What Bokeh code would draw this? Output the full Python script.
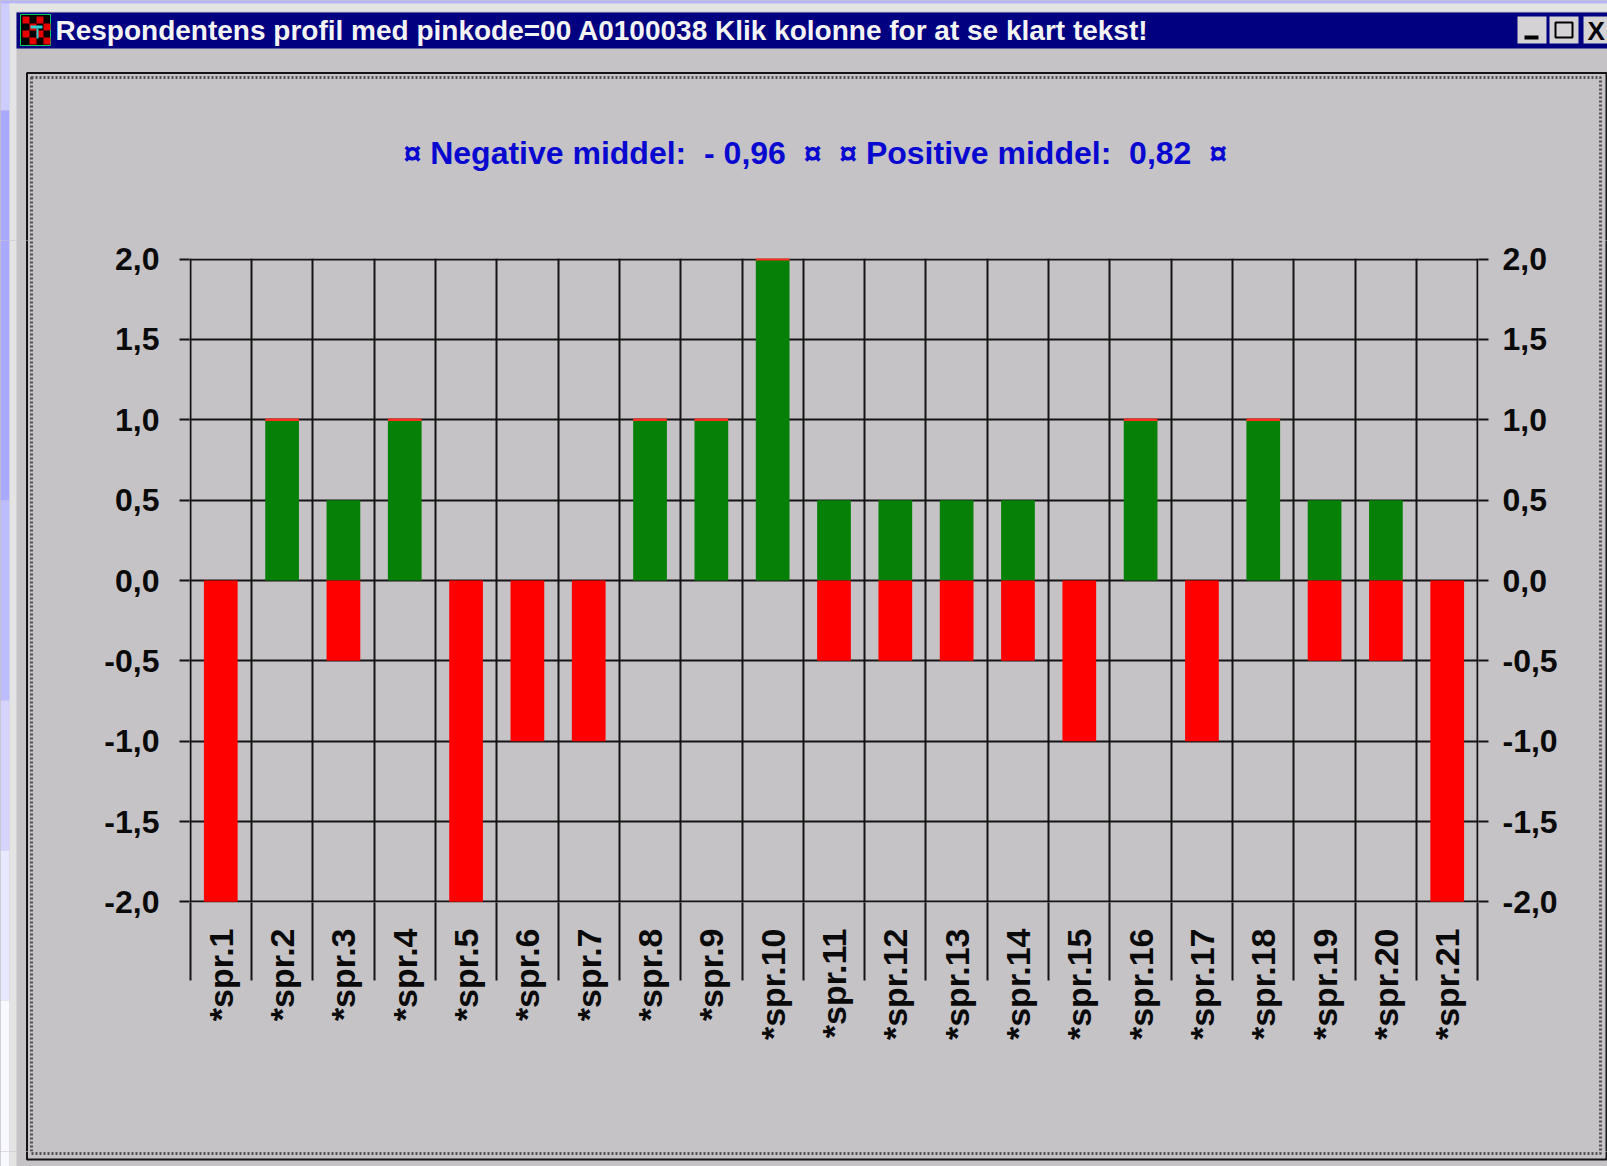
from bokeh.plotting import figure
from bokeh.layouts import column, row
from bokeh.core.properties import value
from bokeh.models import FixedTicker, LinearAxis, Range1d, ColumnDataSource
from bokeh.embed import file_html
from bokeh.resources import INLINE

categories = ["*spr.%d" % i for i in range(1, 22)]
positive = [0, 1, .5, 1, 0, 0, 0, 1, 1, 2, .5, .5, .5, .5, 0, 1, 0, 1, .5, .5, 0]
negative = [-2, 0, -.5, 0, -2, -1, -1, 0, 0, 0, -.5, -.5, -.5, -.5, -1, 0, -1, 0, -.5, -.5, -2]
y_ticks = [-2, -1.5, -1, -.5, 0, .5, 1, 1.5, 2]
y_labels = ["-2,0", "-1,5", "-1,0", "-0,5", "0,0", "0,5", "1,0", "1,5", "2,0"]
window_title = "Respondentens profil med pinkode=00 A0100038 Klik kolonne for at se klart tekst!"
chart_title = "¤ Negative middel:\u00a0 - 0,96\u00a0 ¤\u00a0 ¤ Positive middel:\u00a0 0,82\u00a0 ¤"

GREY = "#c6c3c6"
GREEN = "#078007"
RED = "#ff0000"
LINE = "#141414"
FONT = "Liberation Sans"
W, H = 1607, 1166
FL, FR, FB = 189, 1478, 902        # plot area edges on the page
TOP_H, LEFT_W, RIGHT_X, BOTTOM_Y = 240, 33, 1598, 1151   # cuts between the chart and the window panels

xs = list(range(1, 22))
BAR_W = 0.55
src = ColumnDataSource(dict(x=xs, pos=positive, neg=negative))
caps = [i for i, v in enumerate(positive) if v >= 1]
cap_src = ColumnDataSource(dict(
    x0=[xs[i] - BAR_W / 2 for i in caps],
    x1=[xs[i] + BAR_W / 2 for i in caps],
    y=[positive[i] for i in caps]))

p = figure(width=RIGHT_X - LEFT_W, height=BOTTOM_Y - TOP_H, output_backend="svg", toolbar_location=None,
           x_range=Range1d(0.49, 21.51), y_range=Range1d(-2.004, 2.004),
           min_border_left=FL - LEFT_W, min_border_right=RIGHT_X - FR,
           min_border_top=258 - TOP_H, min_border_bottom=BOTTOM_Y - FB,
           x_axis_location=None, y_axis_location=None, frame_align=False,
           styles={"background-color": GREY},
           background_fill_color=GREY, border_fill_color=GREY, outline_line_color=None)

boundaries = [i + 0.5 for i in range(0, 22)]
xaxis = LinearAxis(ticker=FixedTicker(ticks=xs, minor_ticks=boundaries),
                   major_label_overrides={x: c for x, c in zip(xs, categories)},
                   major_label_orientation=1.5708,
                   major_label_standoff=-52,
                   major_label_text_font=FONT, major_label_text_font_size="34px",
                   major_label_text_font_style="bold",
                   major_label_text_color="#0a0a0a",
                   major_tick_line_color=None, major_tick_out=0, major_tick_in=0,
                   minor_tick_out=78, minor_tick_in=0,
                   minor_tick_line_color=LINE, minor_tick_line_width=2,
                   axis_line_color=None)
p.add_layout(xaxis, "below")

overrides = {t: l for t, l in zip(y_ticks, y_labels)}
for side, standoff in (("left", 20), ("right", 14)):
    ax = LinearAxis(ticker=FixedTicker(ticks=y_ticks, minor_ticks=[]),
                    major_label_overrides=overrides,
                    major_label_standoff=standoff,
                    major_label_text_font=FONT, major_label_text_font_size="32px",
                    major_label_text_font_style="bold",
                    major_label_text_color="#0a0a0a",
                    major_tick_out=10, major_tick_in=0,
                    major_tick_line_color=LINE, major_tick_line_width=2,
                    axis_line_color=None)
    p.add_layout(ax, side)

p.xgrid.ticker = FixedTicker(ticks=boundaries, minor_ticks=[])
p.ygrid.ticker = FixedTicker(ticks=y_ticks, minor_ticks=[])
for g in (p.xgrid, p.ygrid):
    g.grid_line_color = LINE
    g.grid_line_width = 2

p.vbar(x="x", top="pos", bottom=0, width=BAR_W, fill_color=GREEN, line_color=None, source=src)
p.vbar(x="x", top=0, bottom="neg", width=BAR_W, fill_color=RED, line_color=None, source=src)
p.segment(x0="x0", x1="x1", y0="y", y1="y", line_color="#ff3020", line_width=2.5, source=cap_src)

# window decoration, in page pixels: (left, top, right, bottom, fill, line, width, dash)
shapes = []
for t, b, c in [(0, 110, "#ccccff"), (110, 500, "#a9a9ff"), (500, 700, "#bcbcff"), (700, 850, "#d4d4ff"),
                (850, 1000, "#e8e8ff"), (1000, H, "#f8f8ff")]:
    shapes.append((0, t, 9, b, c, None, 1, "solid"))
shapes += [(0, 0, W, 3, "#b4b4ff", None, 1, "solid"),
           (9, 3, 16, H, "#e4e4e4", None, 1, "solid"),
           (9, 3, W, 11, "#e4e4e4", None, 1, "solid"),
           (16, 12, W, 48, "#000080", None, 1, "solid"),
           (20, 14, 50, 45, "#000000", "#00d060", 1, "solid")]
for r_ in range(4):
    for c_ in range(4):
        if (r_ + c_) % 2 == 0:
            shapes.append((22 + c_ * 7, 16 + r_ * 7, 29 + c_ * 7, 23 + r_ * 7, "#e80000", None, 1, "solid"))
shapes += [(30, 25, 42, 28, "#30d0d0", None, 1, "solid"),
           (36, 28, 38, 38, "#30d0d0", None, 1, "solid")]
for l, r_ in [(1517, 1546), (1549, 1578), (1583, W)]:
    shapes.append((l, 16, r_, 43, "#d4d2d4", None, 1, "solid"))
shapes += [(1524, 35, 1538, 39, "#000000", None, 1, "solid"),
           (1555, 22, 1572, 37, None, "#000000", 2, "solid"),
           (26.5, 72.5, 1606, 1159, None, "#141414", 2, "solid"),
           (31, 77, 1600, 1153, None, "#555055", 3, "2 2")]


def panel(l, t, r, b):
    f = figure(width=r - l, height=b - t, output_backend="svg", toolbar_location=None,
               x_range=Range1d(l, r), y_range=Range1d(b, t),
               x_axis_location=None, y_axis_location=None, frame_align=False,
               styles={"background-color": GREY},
               min_border=0, min_border_left=0, min_border_right=0, min_border_top=0, min_border_bottom=0,
               background_fill_color=GREY, border_fill_color=GREY, outline_line_color=None)
    f.grid.visible = False
    for s in shapes:
        f.quad(left=[s[0]], top=[s[1]], right=[s[2]], bottom=[s[3]],
               fill_color=s[4], fill_alpha=1 if s[4] else 0,
               line_color=s[5], line_alpha=1 if s[5] else 0, line_width=s[6], line_dash=s[7])
    return f


top = panel(0, 0, W, TOP_H)
left = panel(0, TOP_H, LEFT_W, BOTTOM_Y)
right = panel(RIGHT_X, TOP_H, W, BOTTOM_Y)
bottom = panel(0, BOTTOM_Y, W, H)

for x, y, s, color, size, style in [
        (1587, 30, "X", "#000000", "26px", "bold"),
        (55, 30, window_title, "#f4f4f4", "28px", "bold"),
        (403, 152, chart_title, "#0808d0", "32px", "bold")]:
    top.text(x=[x], y=[y], text=[s], text_color=color, text_font=value(FONT),
             text_font_size=value(size), text_font_style=style,
             text_align="left", text_baseline="middle")

page = column(top, row(left, p, right, spacing=0), bottom, spacing=0)
open("out.html", "w").write(file_html(page, INLINE))
